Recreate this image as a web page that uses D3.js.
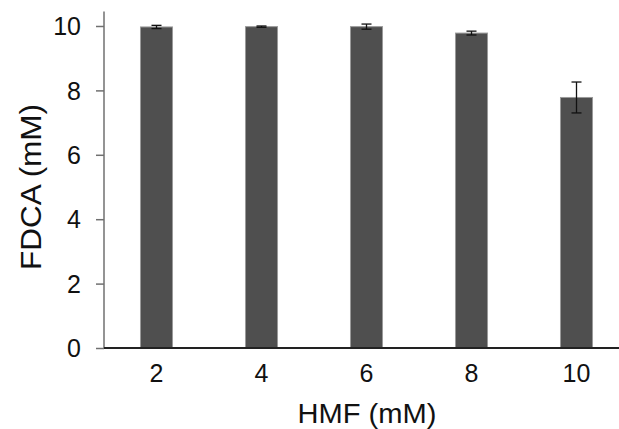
<!DOCTYPE html>
<html><head><meta charset="utf-8">
<script src="https://cdn.jsdelivr.net/npm/d3@7"></script>
<style>body{margin:0;background:#fff}svg{display:block}text{font-family:"Liberation Sans",Arial,sans-serif;fill:#111}</style>
</head><body><svg id="c" width="619" height="429"></svg>
<script>
const categories = ["2","4","6","8","10"];
const values = [9.97, 9.98, 9.98, 9.78, 7.78];
const errors = [0.05, 0.02, 0.08, 0.06, 0.48];
const yTicks = [0,2,4,6,8,10];

const svg = d3.select("#c");
const x = d3.scaleBand().domain(categories).range([104, 629]).paddingInner(0.695).paddingOuter(0.3475);
const y = d3.scaleLinear().domain([0, 10.45]).range([348, 11.5]);

// bars
svg.selectAll("rect.bar").data(values).join("rect")
  .attr("x", (d,i)=>x(categories[i])).attr("width", x.bandwidth())
  .attr("y", d=>y(d)).attr("height", d=>y(0)-y(d))
  .attr("fill", "#4f4f4f").attr("stroke", "#9a9a9a").attr("stroke-width", 1);

// error bars
const eb = svg.append("g").attr("stroke", "#111").attr("stroke-width", 1.3);
values.forEach((v,i)=>{
  const cx = x(categories[i]) + x.bandwidth()/2;
  eb.append("line").attr("x1",cx).attr("x2",cx).attr("y1",y(v+errors[i])).attr("y2",y(v-errors[i]));
  [v+errors[i], v-errors[i]].forEach(e=>eb.append("line").attr("x1",cx-5).attr("x2",cx+5).attr("y1",y(e)).attr("y2",y(e)));
});

// y axis
const ya = svg.append("g").attr("transform","translate(104,0)")
  .call(d3.axisLeft(y).tickValues(yTicks).tickSize(8).tickPadding(15).tickFormat(d3.format("d")));
ya.select(".domain").attr("stroke","#707070").attr("stroke-width",1.5).attr("d","M0,11.5V348");
ya.selectAll(".tick line").attr("stroke","#707070").attr("stroke-width",1.5);
ya.selectAll(".tick text").attr("font-size",25).attr("fill","#111").attr("dy","0.35em");

// x axis
const xa = svg.append("g").attr("transform","translate(0,348)")
  .call(d3.axisBottom(x).tickSize(0).tickPadding(16));
xa.select(".domain").attr("stroke","#222").attr("stroke-width",2).attr("d","M104,0H619");
xa.selectAll(".tick text").attr("font-size",25).attr("fill","#111");

// titles
svg.append("text").attr("x",367).attr("y",423).attr("text-anchor","middle")
  .attr("font-size",28).attr("textLength",139).attr("lengthAdjust","spacingAndGlyphs").text("HMF (mM)");
svg.append("text").attr("transform","translate(41,187) rotate(-90)").attr("text-anchor","middle")
  .attr("font-size",29).attr("textLength",166).attr("lengthAdjust","spacingAndGlyphs").text("FDCA (mM)");
</script></body></html>
